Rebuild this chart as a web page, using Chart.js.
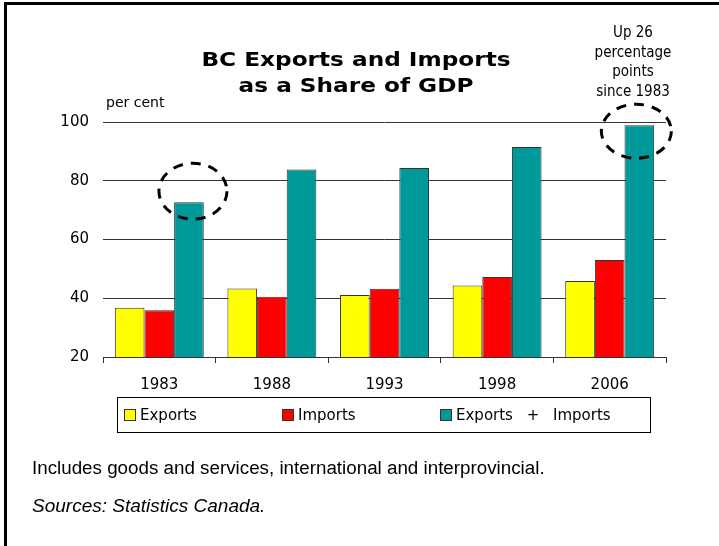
<!DOCTYPE html>
<html>
<head>
<meta charset="utf-8">
<title>BC Exports and Imports</title>
<script src="https://cdn.jsdelivr.net/npm/chart.js@4/dist/chart.umd.min.js"></script>
<style>
  body { margin: 0; background: #fff; }
  #wrap { position: relative; width: 719px; height: 546px; overflow: hidden; background: #fff; }
  #frame { position: absolute; left: 4px; top: 2px; right: -10px; bottom: -10px;
           border-left: 3px solid #000; border-top: 3px solid #000; }
  #chart { position: absolute; left: 0; top: 0; }
  .txt { position: absolute; color: #000; white-space: nowrap; }
  #title { left: 146px; width: 420px; top: 46px; text-align: center;
           font: bold 20px "DejaVu Sans"; line-height: 26px; transform: scaleX(1.16); }
  #note { left: 583px; width: 100px; top: 23px; text-align: center;
          font: 15px "DejaVu Sans Condensed"; line-height: 19.5px; }
  #unit { left: 106px; top: 94px; font: 14px "DejaVu Sans"; }
  #legend { position: absolute; left: 117px; top: 397px; width: 532px; height: 34px;
            border: 1px solid #000; display: flex; align-items: center;
            font: 15px "DejaVu Sans"; white-space: nowrap; }
  #legend .item { width: 158px; flex: none; display: flex; align-items: center; word-spacing: 9px; }
  #legend .item:first-child { margin-left: 6px; }
  #legend .item:last-child { width: auto; }
  #legend .box { width: 10px; height: 10px; flex: none; border: 1px solid #333; margin-right: 4px; }
  #foot1 { left: 32px; top: 457px; font: 18.8px "Liberation Sans"; }
  #foot2 { left: 32px; top: 495px; font: italic 19px "Liberation Sans"; }
</style>
</head>
<body>
<div id="wrap">
  <canvas id="chart" width="719" height="546"></canvas>
  <div id="frame"></div>
  <div class="txt" id="title">BC Exports and Imports<br>as a Share of GDP</div>
  <div class="txt" id="note">Up 26<br>percentage<br>points<br>since 1983</div>
  <div class="txt" id="unit">per cent</div>
  <div id="legend"></div>
  <div class="txt" id="foot1">Includes goods and services, international and interprovincial.</div>
  <div class="txt" id="foot2">Sources: Statistics Canada.</div>
</div>
<script>
const years = ['1983', '1988', '1993', '1998', '2006'];
const exportsShare = [36.8, 43.3, 41.1, 44.3, 45.9];
const importsShare = [35.9, 40.5, 43.2, 47.2, 53.0];
const totalShare = [72.7, 83.8, 84.3, 91.5, 98.9];
const yTicks = [20, 40, 60, 80, 100];

const seriesNames = ['Exports', 'Imports', 'Exports + Imports'];
const seriesColors = ['#ffff00', '#ff0000', '#009999'];

// dashed rings around the first and last combined bars
const rings = [
  { index: 0, dx: 4, dy: -11, rx: 34, ry: 28 },
  { index: 4, dx: -3, dy: 6, rx: 35, ry: 27 }
];

const ringPlugin = {
  id: 'rings',
  afterDatasetsDraw(chart) {
    const meta = chart.getDatasetMeta(2);
    const ctx = chart.ctx;
    ctx.save();
    ctx.strokeStyle = '#000';
    ctx.lineWidth = 3;
    ctx.setLineDash([10, 8]);
    rings.forEach(r => {
      const bar = meta.data[r.index];
      ctx.beginPath();
      ctx.ellipse(bar.x + r.dx, bar.y + r.dy, r.rx, r.ry, 0, 0, Math.PI * 2);
      ctx.stroke();
    });
    ctx.restore();
  }
};

const data = [exportsShare, importsShare, totalShare];

const chart = new Chart(document.getElementById('chart'), {
  type: 'bar',
  data: {
    labels: years,
    datasets: data.map((values, i) => ({
      label: seriesNames[i],
      data: values,
      backgroundColor: seriesColors[i],
      borderColor: '#333',
      borderWidth: 1,
      categoryPercentage: 0.79,
      barPercentage: 1
    }))
  },
  options: {
    responsive: false,
    animation: false,
    layout: { padding: { left: 0, top: 122, right: 53, bottom: 149 } },
    plugins: { legend: { display: false }, tooltip: { enabled: false } },
    scales: {
      x: {
        afterFit: s => { s.height = 40; },
        grid: { drawOnChartArea: false, color: '#333', tickLength: 6 },
        border: { color: '#333' },
        ticks: { color: '#000', font: { family: 'DejaVu Sans', size: 15 }, padding: 13 }
      },
      y: {
        min: yTicks[0],
        max: yTicks[yTicks.length - 1],
        afterFit: s => { s.width = 103; },
        afterBuildTicks: s => { s.ticks = yTicks.map(v => ({ value: v })); },
        grid: { color: '#333', drawTicks: false },
        border: { display: false },
        ticks: { color: '#000', font: { family: 'DejaVu Sans', size: 15 }, padding: 14 }
      }
    }
  },
  plugins: [ringPlugin]
});

// legend with equal-width entries in a box
const legend = document.getElementById('legend');
seriesNames.forEach((name, i) => {
  const item = document.createElement('div');
  item.className = 'item';
  const box = document.createElement('span');
  box.className = 'box';
  box.style.background = seriesColors[i];
  item.appendChild(box);
  item.appendChild(document.createTextNode(name));
  legend.appendChild(item);
});
</script>
</body>
</html>
